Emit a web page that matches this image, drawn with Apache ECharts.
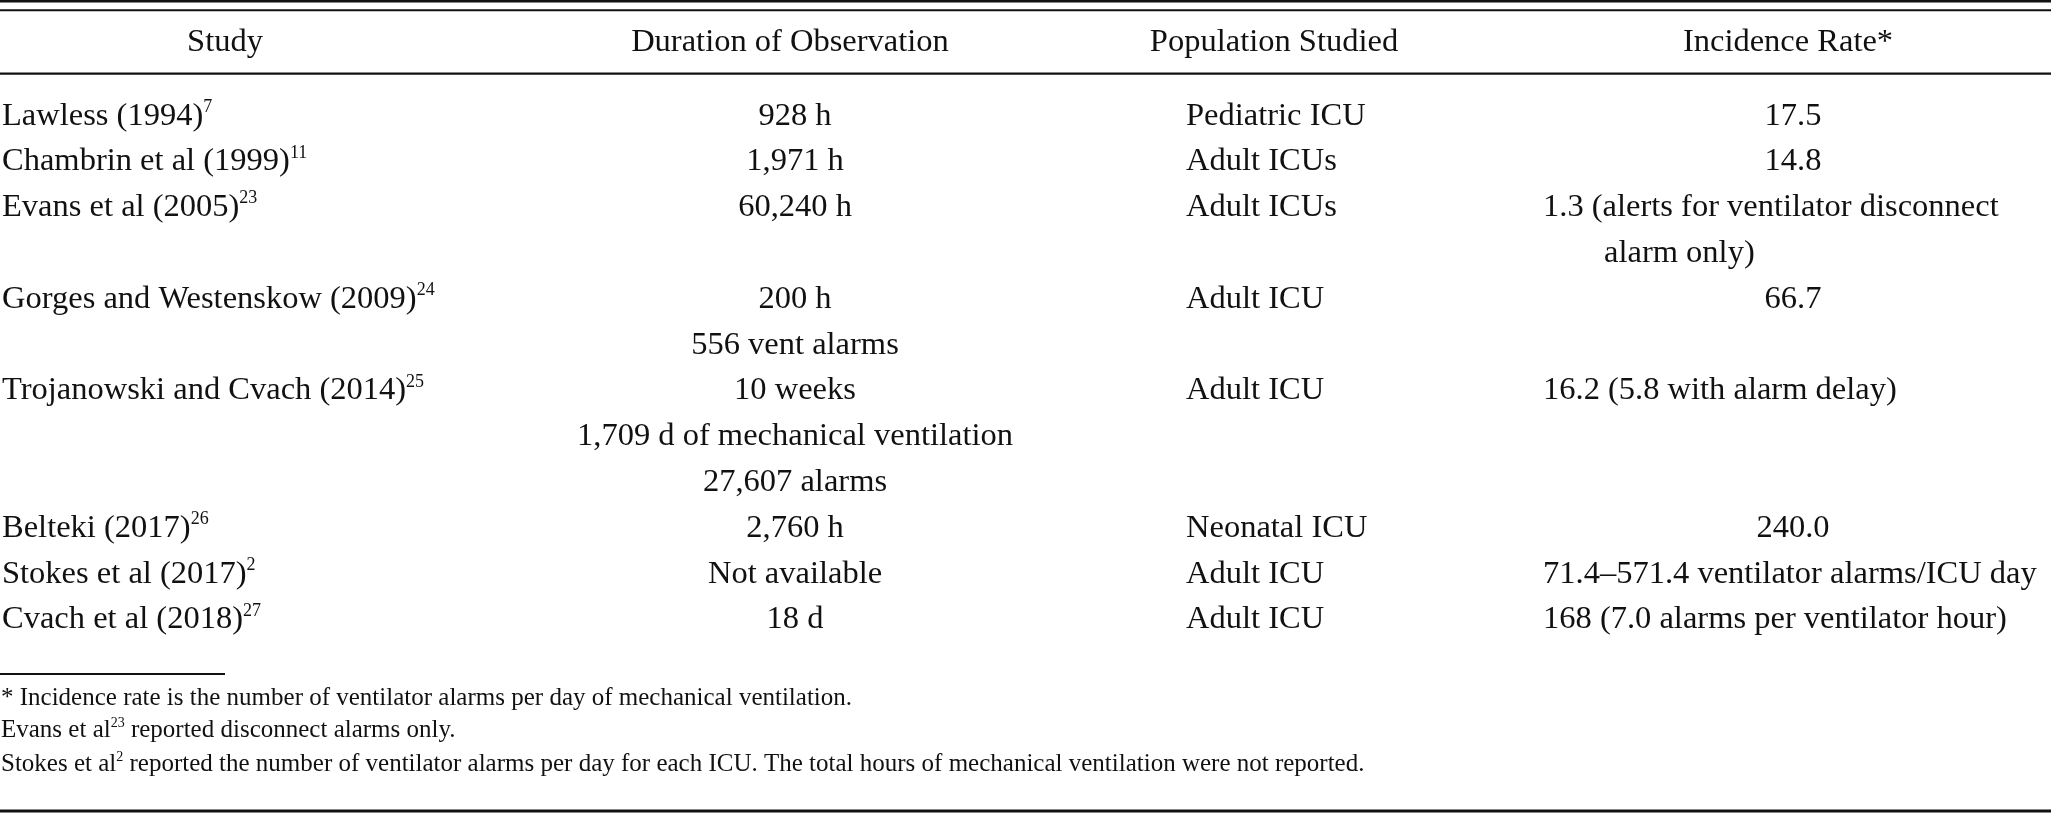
<!DOCTYPE html>
<html><head><meta charset="utf-8">
<script src="https://cdn.jsdelivr.net/npm/echarts@6/dist/echarts.min.js"></script>
<style>html,body{margin:0;padding:0;background:#fff}#c{width:2051px;height:814px}</style>
</head><body><div id="c"></div>
<script>
// ---------- DATA ----------
const headers = ['Study', 'Duration of Observation', 'Population Studied', 'Incidence Rate*'];
const studies = ['Lawless (1994)', 'Chambrin et al (1999)', 'Evans et al (2005)', 'Gorges and Westenskow (2009)',
  'Trojanowski and Cvach (2014)', 'Belteki (2017)', 'Stokes et al (2017)', 'Cvach et al (2018)'];
const studyRefs = ['7', '11', '23', '24', '25', '26', '2', '27'];
const durations = [['928 h'], ['1,971 h'], ['60,240 h'], ['200 h', '556 vent alarms'],
  ['10 weeks', '1,709 d of mechanical ventilation', '27,607 alarms'], ['2,760 h'], ['Not available'], ['18 d']];
const populations = ['Pediatric ICU', 'Adult ICUs', 'Adult ICUs', 'Adult ICU', 'Adult ICU', 'Neonatal ICU', 'Adult ICU', 'Adult ICU'];
const incidenceRates = [['17.5'], ['14.8'], ['1.3 (alerts for ventilator disconnect', 'alarm only)'], ['66.7'],
  ['16.2 (5.8 with alarm delay)'], ['240.0'], ['71.4\u2013571.4 ventilator alarms/ICU day'], ['168 (7.0 alarms per ventilator hour)']];
// footnotes: odd-index parts are superscripts
const footnotes = [
  ['* Incidence rate is the number of ventilator alarms per day of mechanical ventilation.'],
  ['Evans et al', '23', ' reported disconnect alarms only.'],
  ['Stokes et al', '2', ' reported the number of ventilator alarms per day for each ICU. The total hours of mechanical ventilation were not reported.']
];

// ---------- LAYOUT / STYLE ----------
const W = 2051, H = 814;
const FONT = "'Liberation Serif', 'Times New Roman', serif";
const INK = '#111';
const BODY = 32.5, SUP = 18, FOOT = 25, FSUP = 14;
const headerX = [225, 790, 1274, 1788];
const colStudyX = 2, colDurX = 795, colPopX = 1186, colIncCenter = 1793, colIncLeft = 1543, colIncCont = 1604;
const firstLine = 116, lineStep = 45.8;

// build cells from data
const cells = [];
let line = 0;
studies.forEach((s, i) => {
  const n = Math.max(durations[i].length, incidenceRates[i].length, 1);
  cells.push({ x: colStudyX, line: line, align: 'left', text: '{m|' + s + '}{s|' + studyRefs[i] + '}' });
  durations[i].forEach((t, k) => cells.push({ x: colDurX, line: line + k, align: 'center', text: '{m|' + t + '}' }));
  cells.push({ x: colPopX, line: line, align: 'left', text: '{m|' + populations[i] + '}' });
  incidenceRates[i].forEach((t, k) => {
    const numeric = /^[\d.]+$/.test(t);
    cells.push({
      x: numeric ? colIncCenter : (k === 0 ? colIncLeft : colIncCont),
      line: line + k, align: numeric ? 'center' : 'left', text: '{m|' + t + '}'
    });
  });
  line += n;
});
const nLines = line;
const lineCats = Array.from({ length: nLines }, (_, i) => 'L' + i);

const rich = {
  m: { fontFamily: FONT, fontSize: BODY, lineHeight: 36, fill: INK, color: INK },
  s: { fontFamily: FONT, fontSize: SUP, lineHeight: 22, verticalAlign: 'top', fill: INK, color: INK }
};

function textItem(list) {
  return function (params, api) {
    const c = list[params.dataIndex];
    const p = api.coord([api.value(0), api.value(1)]);
    return {
      type: 'text', x: p[0], y: p[1], silent: true,
      style: { text: c.text, rich: rich, align: c.align, verticalAlign: 'middle', fill: INK, fontFamily: FONT, fontSize: BODY }
    };
  };
}

const headCells = headers.map((h, i) => ({ x: headerX[i], line: 0, align: 'center', text: '{m|' + h + '}' }));

const gridTop = firstLine - lineStep / 2;
const option = {
  backgroundColor: '#fff',
  animation: false,
  grid: [
    { left: 0, right: 0, top: 22.5, height: 40 },
    { left: 0, right: 0, top: gridTop, height: lineStep * nLines }
  ],
  xAxis: [
    { type: 'value', gridIndex: 0, min: 0, max: W, show: false },
    { type: 'value', gridIndex: 1, min: 0, max: W, show: false }
  ],
  yAxis: [
    { type: 'category', gridIndex: 0, data: ['header'], show: false },
    { type: 'category', gridIndex: 1, data: lineCats, inverse: true, show: false }
  ],
  series: [
    { type: 'custom', xAxisIndex: 0, yAxisIndex: 0, renderItem: textItem(headCells),
      data: headCells.map(c => [c.x, c.line]), clip: false },
    { type: 'custom', xAxisIndex: 1, yAxisIndex: 1, renderItem: textItem(cells),
      data: cells.map(c => [c.x, c.line]), clip: false }
  ],
  graphic: []
};

// rules
const rules = [
  { x1: 0, x2: W, y: 1.3, w: 2.6 },
  { x1: 0, x2: W, y: 10.3, w: 2 },
  { x1: 0, x2: W, y: 73.7, w: 2.2 },
  { x1: 0, x2: 225, y: 674, w: 2 },
  { x1: 0, x2: W, y: 811, w: 3 }
];
rules.forEach(r => option.graphic.push({
  type: 'line', silent: true, shape: { x1: r.x1, y1: r.y, x2: r.x2, y2: r.y },
  style: { stroke: INK, lineWidth: r.w }
}));

// footnotes
const footY = [698, 730, 764];
footnotes.forEach((parts, i) => {
  const txt = parts.map((p, k) => (k % 2 ? '{s|' + p + '}' : '{m|' + p + '}')).join('');
  option.graphic.push({
    type: 'text', silent: true, x: 1, y: footY[i],
    style: {
      text: txt, verticalAlign: 'middle', align: 'left', fill: INK,
      rich: {
        m: { fontFamily: FONT, fontSize: FOOT, lineHeight: 28, fill: INK },
        s: { fontFamily: FONT, fontSize: FSUP, lineHeight: 18, verticalAlign: 'top', fill: INK }
      }
    }
  });
});

const chart = echarts.init(document.getElementById('c'), null, { renderer: 'canvas', width: W, height: H });
chart.setOption(option);
</script>
</body></html>
